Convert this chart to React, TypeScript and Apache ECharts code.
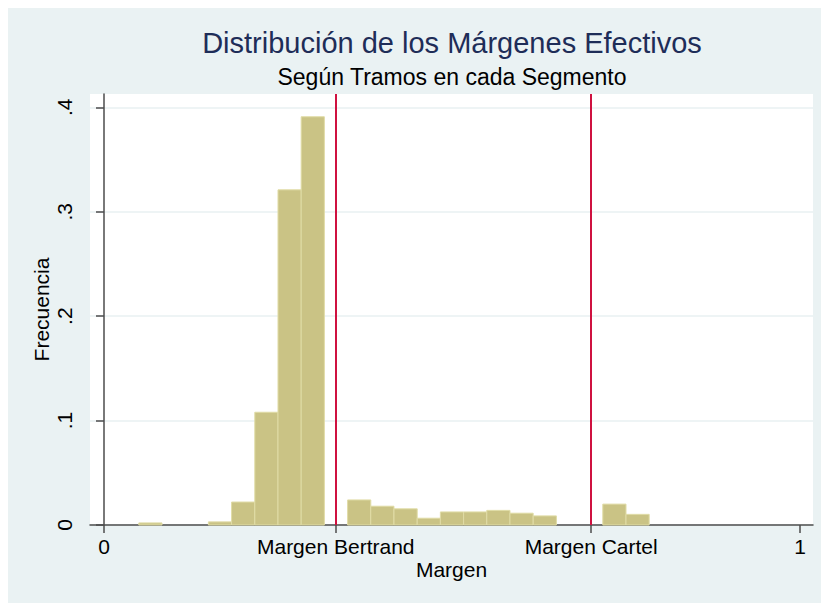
import React, { useEffect, useRef } from "react";
import * as echarts from "echarts";

const binLeft = [0.05, 0.15, 0.1833, 0.2167, 0.25, 0.2833, 0.35, 0.3833, 0.4167, 0.45, 0.4833, 0.5167, 0.55, 0.5833, 0.6167, 0.7167, 0.75];
const freq = [0.002, 0.003, 0.022, 0.108, 0.321, 0.391, 0.024, 0.018, 0.0155, 0.0065, 0.0125, 0.0125, 0.014, 0.0113, 0.0087, 0.02, 0.0102];
const binWidth = 1 / 30;
const refLines = [0.333, 0.7];
const xTickValues = [0, 0.333, 0.7, 1];
const xTickLabels = ["0", "Margen Bertrand", "Margen Cartel", "1"];
const yTickValues = [0, 0.1, 0.2, 0.3, 0.4];
const yTickLabels = ["0", ".1", ".2", ".3", ".4"];

const FONT = "'Liberation Sans', Arial, sans-serif";

export default function App() {
  const ref = useRef<HTMLDivElement>(null);
  useEffect(() => {
    if (!ref.current) return;
    const chart = echarts.init(ref.current, null, { renderer: "svg" });
    const data = binLeft.map((l, i) => [l, l + binWidth, freq[i]]);
    chart.setOption({
      animation: false,
      backgroundColor: "#eaf2f3",
      textStyle: { fontFamily: FONT },
      graphic: [
        {
          type: "text",
          x: 444,
          y: 35,
          style: {
            text: "Distribución de los Márgenes Efectivos",
            fontSize: 29,
            fontFamily: FONT,
            fill: "#1e2d58",
            textAlign: "center",
            textVerticalAlign: "middle",
          },
        },
        {
          type: "text",
          x: 444,
          y: 69,
          style: {
            text: "Según Tramos en cada Segmento",
            fontSize: 23,
            fontFamily: FONT,
            fill: "#000",
            textAlign: "center",
            textVerticalAlign: "middle",
          },
        },
      ],
      grid: {
        left: 82,
        top: 86,
        width: 723,
        height: 431,
        show: true,
        backgroundColor: "#ffffff",
        borderWidth: 0,
      },
      xAxis: {
        type: "value",
        min: -0.0201,
        max: 1.0187,
        name: "Margen",
        nameLocation: "middle",
        nameGap: 34,
        nameMoveOverlap: false,
        nameTextStyle: { fontSize: 21, color: "#000", fontFamily: FONT },
        axisLine: { show: true, onZero: false, lineStyle: { color: "#4d4d4d", width: 1.5 } },
        axisTick: { show: true, length: 8, customValues: xTickValues, lineStyle: { color: "#4d4d4d", width: 1.5 } },
        axisLabel: {
          customValues: xTickValues,
          fontSize: 21,
          color: "#000",
          margin: 11,
          fontFamily: FONT,
          formatter: (v: number) => {
            const i = xTickValues.findIndex((t) => Math.abs(t - v) < 1e-6);
            return i >= 0 ? xTickLabels[i] : "";
          },
        },
        splitLine: { show: false },
      },
      yAxis: {
        type: "value",
        min: 0,
        max: 0.4128,
        name: "Frecuencia",
        nameLocation: "middle",
        nameRotate: 90,
        nameGap: 38,
        nameMoveOverlap: false,
        nameTextStyle: { fontSize: 21, color: "#000", fontFamily: FONT },
        axisLine: { show: true, lineStyle: { color: "#4d4d4d", width: 1.5 } },
        axisTick: { show: true, length: 8, customValues: yTickValues, lineStyle: { color: "#4d4d4d", width: 1.5 } },
        axisLabel: {
          customValues: yTickValues,
          rotate: 90,
          fontSize: 21,
          color: "#000",
          margin: 15,
          fontFamily: FONT,
          formatter: (v: number) => {
            const i = yTickValues.findIndex((t) => Math.abs(t - v) < 1e-6);
            return i >= 0 ? yTickLabels[i] : "";
          },
        },
        splitLine: { show: true, lineStyle: { color: "#e8f0f2", width: 1.5 } },
      },
      series: [
        {
          type: "custom",
          data,
          encode: { x: [0, 1], y: 2 },
          renderItem: (params: any, api: any) => {
            const x0 = api.value(0);
            const x1 = api.value(1);
            const h = api.value(2);
            const p0 = api.coord([x0, h]);
            const p1 = api.coord([x1, 0]);
            return {
              type: "rect",
              shape: { x: p0[0], y: p0[1], width: p1[0] - p0[0], height: p1[1] - p0[1] },
              style: { fill: "#cac385", stroke: "#e0dca6", lineWidth: 1 },
            };
          },
          markLine: {
            silent: true,
            symbol: "none",
            precision: 4,
            label: { show: false },
            lineStyle: { color: "#cf1140", width: 2, type: "solid" },
            data: refLines.map((x) => ({ xAxis: x })),
          },
        },
      ],
    });
    return () => chart.dispose();
  }, []);
  return (
    <div
      ref={ref}
      style={{ position: "absolute", left: 8, top: 8, width: 813, height: 595 }}
    />
  );
}
